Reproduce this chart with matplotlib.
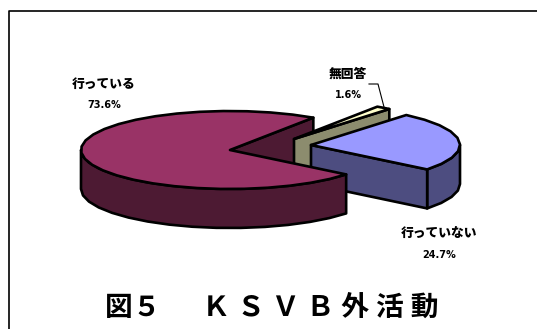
import numpy as np
import matplotlib
matplotlib.use('Agg')
import matplotlib.pyplot as plt
from matplotlib.patches import Polygon

plt.rcParams['font.family'] = ['Noto Sans CJK JP', 'DejaVu Sans']

labels = ['行っている', '行っていない', '無回答']
values = [73.6, 24.7, 1.6]
value_labels = ['73.6%', '24.7%', '1.6%']
top_colors = ['#993366', '#9999ff', '#ffffcc']
side_colors = ['#4d1a33', '#4d4d80', '#8c8c6e']

# pie geometry in pixels
centers = [(230, 150), (311, 145), (294, 139)]
rx, ry = 149, 39
depth = 39
start_angle = 56.0


def arc(center, t0, t1, step=9.0):
    n = max(int(abs(t1 - t0) / step), 1) + 1
    t = np.radians(np.linspace(t0, t1, n))
    return np.column_stack([center[0] + rx * np.cos(t), center[1] - ry * np.sin(t)])


def drop(pts):
    return pts + np.array([0, depth])


def face(ax, pts, color):
    ax.add_patch(Polygon(pts, closed=True, facecolor=color, edgecolor='black',
                         linewidth=1.9, joinstyle='round'))


fig = plt.figure(figsize=(5.37, 3.29), dpi=100)
ax = fig.add_axes([0, 0, 1, 1])
ax.set_xlim(0, 537)
ax.set_ylim(329, 0)
ax.axis('off')

# page frame
ax.plot([9, 9, 537], [329, 11, 11], color='black', lw=1.2)

sweeps = np.array(values) / sum(values) * 360
t0_main = start_angle
t1_main = t0_main + sweeps[0]
t1_blue = t1_main + sweeps[1]
t1_small = t1_blue + sweeps[2]

c_main, c_blue, c_small = centers


def cut_wall(center, t):
    p = np.array(center, dtype=float)
    q = arc(center, t, t, 1)[0]
    return np.array([p, q, q + [0, depth], p + [0, depth]])


# back to front: notch wall, small slice, blue slice, then the large slice
face(ax, cut_wall(c_main, t0_main), side_colors[0])

face(ax, cut_wall(c_small, t1_blue), side_colors[2])
face(ax, np.vstack([[c_small], arc(c_small, t1_blue, t1_small, 1)]), top_colors[2])

t_blue_start = t1_main - 360
outer = arc(c_blue, t_blue_start, 0)
face(ax, np.vstack([outer, drop(outer)[::-1]]), side_colors[1])
face(ax, cut_wall(c_blue, t_blue_start), side_colors[1])
face(ax, np.vstack([[c_blue], arc(c_blue, t_blue_start, t_blue_start + sweeps[1])]), top_colors[1])

outer = arc(c_main, 180, t1_main)
face(ax, np.vstack([outer, drop(outer)[::-1]]), side_colors[0])
face(ax, np.vstack([[c_main], arc(c_main, t0_main, t1_main)]), top_colors[0])

# leader line for the small slice
ax.plot([369, 378, 384], [84, 84, 107], color='black', lw=0.8)

label_pos = [(104, 84), (439, 234), (348, 74)]
for name, val, (x, y) in zip(labels, value_labels, label_pos):
    ax.text(x, y, name, ha='center', va='center', fontsize=9.2, fontweight='black')
    ax.text(x, y + 21, val, ha='center', va='center', fontsize=7, fontweight='bold',
            family='DejaVu Sans')

ax.text(272, 308, '図５\u2005\u3000\u2005Ｋ\u2005Ｓ\u2005Ｖ\u2005Ｂ\u2005外\u2005活\u2005動',
        ha='center', va='center', fontsize=20, fontweight='bold')

fig.savefig('out.png', dpi=100)
